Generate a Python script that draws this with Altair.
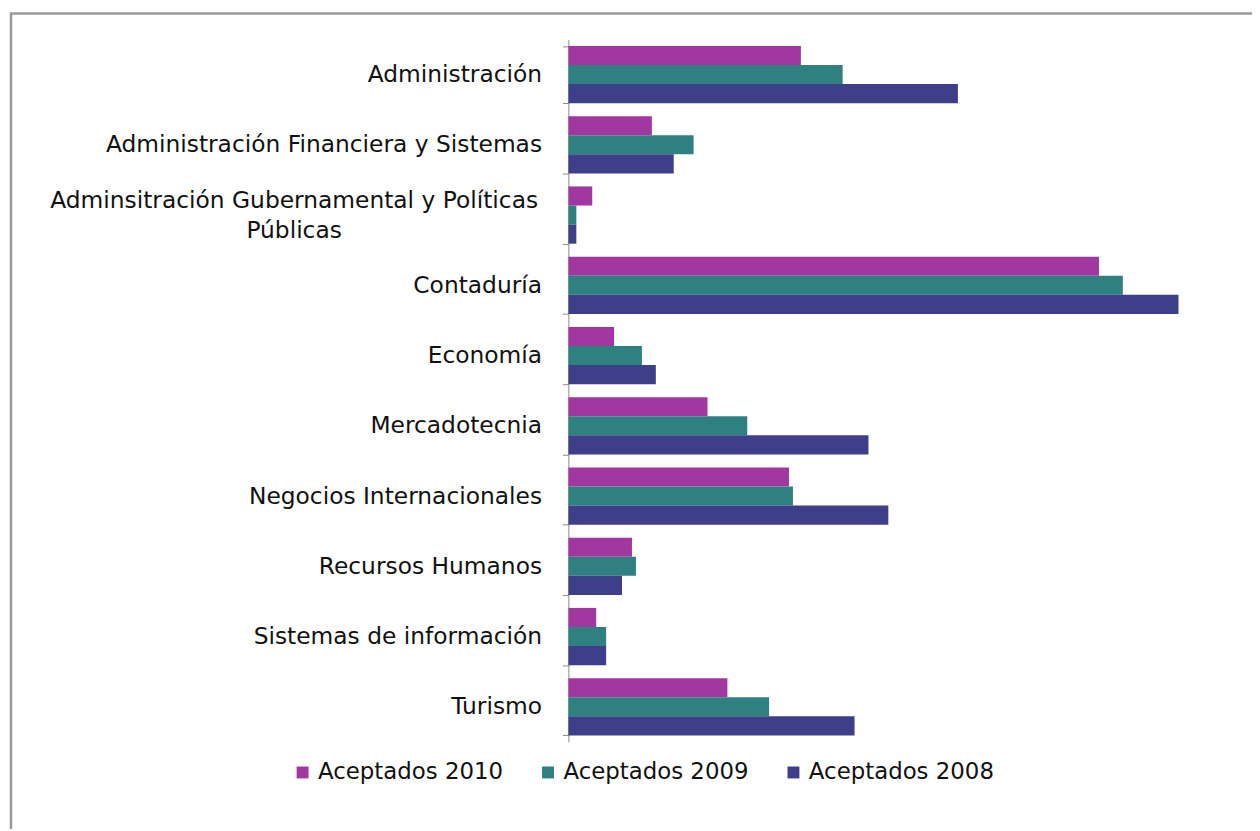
import altair as alt
import pandas as pd

categories = [
    "Administración",
    "Administración Financiera y Sistemas",
    "Adminsitración Gubernamental y Políticas Públicas",
    "Contaduría",
    "Economía",
    "Mercadotecnia",
    "Negocios Internacionales",
    "Recursos Humanos",
    "Sistemas de información",
    "Turismo",
]
series = ["Aceptados 2010", "Aceptados 2009", "Aceptados 2008"]
v2010 = [117, 42, 12, 267, 23, 70, 111, 32, 14, 80]
v2009 = [138, 63, 4, 279, 37, 90, 113, 34, 19, 101]
v2008 = [196, 53, 4, 307, 44, 151, 161, 27, 19, 144]
colors = ["#A1379F", "#2F8080", "#3F3E88"]

rows = []
for s, vals in zip(series, [v2010, v2009, v2008]):
    for c, v in zip(categories, vals):
        rows.append({"carrera": c, "serie": s, "valor": v})
df = pd.DataFrame(rows)

long_label = categories[2]
long_lines = "Adminsitración Gubernamental y Políticas\nPúblicas"
FONT = "DejaVu Sans"
FS = 23.5

yscale = alt.Scale(domain=categories, paddingInner=0.185, paddingOuter=0.0925)

bars = alt.Chart(df).mark_bar().encode(
    y=alt.Y(
        "carrera:N",
        sort=categories,
        title=None,
        scale=yscale,
        axis=alt.Axis(
            labelExpr=f"datum.label == '{long_label}' ? '' : datum.label",
            labelFont=FONT,
            labelFontSize=FS,
            labelColor="#111111",
            labelPadding=21,
            domainColor="#8a8a8a",
            tickColor="#8a8a8a",
            tickSize=6,
            tickBand="extent",
            grid=False,
            labelLimit=700,
        ),
    ),
    yOffset=alt.YOffset("serie:N", sort=series),
    x=alt.X(
        "valor:Q",
        scale=alt.Scale(domain=[0, 320], nice=False, zero=True),
        axis=None,
    ),
    color=alt.Color(
        "serie:N",
        sort=series,
        scale=alt.Scale(domain=series, range=colors),
        legend=alt.Legend(
            title=None,
            orient="none",
            legendX=-279,
            legendY=726,
            direction="horizontal",
            symbolType="square",
            symbolSize=144,
            symbolStrokeWidth=0,
            labelFont=FONT,
            labelFontSize=23,
            labelColor="#111111",
            labelOffset=4,
            columnPadding=33,
            labelLimit=400,
        ),
    ),
)

long_df = pd.DataFrame({"carrera": [long_label], "texto": [long_lines]})
long_text = alt.Chart(long_df).mark_text(
    align="center",
    baseline="middle",
    lineBreak="\n",
    lineHeight=30,
    dy=-14,
    font=FONT,
    fontSize=FS,
    color="#111111",
).encode(
    y=alt.Y("carrera:N", sort=categories, scale=yscale, title=None),
    x=alt.value(-276),
    text="texto:N",
)

frame = alt.Chart(alt.Data(values=[{"a": 1}])).mark_rect(
    fillOpacity=0, stroke="#9a9a9a", strokeWidth=2.5
).encode(
    x=alt.value(-561),
    x2=alt.value(720),
    y=alt.value(-26),
    y2=alt.value(900),
)

chart = alt.layer(frame, bars, long_text).properties(
    width=640,
    height=707,
    autosize=alt.AutoSizeParams(type="none"),
    padding={"left": 564, "top": 29, "right": 48, "bottom": 85},
).configure_view(stroke=None)

chart.save("out.html", embed_options={"renderer": "svg", "actions": False})
